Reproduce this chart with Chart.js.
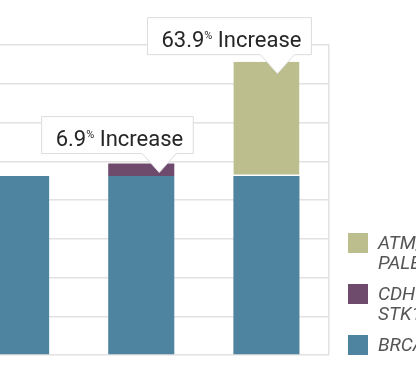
<!DOCTYPE html>
<html><head><meta charset="utf-8">
<script src="https://cdn.jsdelivr.net/npm/chart.js@4/dist/chart.umd.min.js"></script>
<style>
html,body{margin:0;padding:0;background:#fff;overflow:hidden;width:416px;height:382px;}
#wrap{position:absolute;left:-100px;top:0;width:520px;height:382px;}
canvas{display:block;}
</style></head><body>
<div id="wrap"><canvas id="c" width="520" height="382"></canvas></div>
<script>
// ---- data ----
const categories = ['BRCA1/2', 'BRCA1/2 + CDH1/PTEN/TP53/STK11', 'BRCA1/2 + ATM/CHEK2/PALB2'];
const brcaValues = [4.62, 4.62, 4.62];
const cdh1Values = [0, 0.32, 0];
const atmValues  = [0, 0, 2.95];
const brcaLegend = ['BRCA1/2'];
const cdh1Legend = ['CDH1/PTEN/', 'STK11'];
const atmLegend  = ['ATM/CHEK2/', 'PALB2'];
const increaseLabels = [null, '6.9', '63.9'];
const yMin = 0, yMax = 8, yStep = 1;

const calloutPlugin = {
  id: 'callouts',
  afterDatasetsDraw(chart, args, opts) {
    const ctx = chart.ctx;
    const ds = chart.data.datasets;
    increaseLabels.forEach((lab, i) => {
      if (!lab) return;
      let top = 0;
      ds.forEach((d, k) => { if (d.data[i] > 0) top = k; });
      const bar = chart.getDatasetMeta(top).data[i];
      const off = opts.offsets[i];
      const tipX = bar.x + off.dx, tipY = bar.y + off.dy;
      ctx.save();
      ctx.font = '400 22px Roboto';
      const w1 = ctx.measureText(lab).width;
      const w3 = ctx.measureText(' Increase').width;
      ctx.font = '400 11px Roboto';
      const w2 = ctx.measureText('%').width;
      const total = w1 + w2 + w3;
      const right = tipX + 34, width = total + 24, left = right - width;
      const bottom = tipY - 19, topY = bottom - 37;
      ctx.beginPath();
      ctx.moveTo(left, topY); ctx.lineTo(right, topY); ctx.lineTo(right, bottom);
      ctx.lineTo(tipX + 17, bottom); ctx.lineTo(tipX, tipY); ctx.lineTo(tipX - 17, bottom);
      ctx.lineTo(left, bottom); ctx.closePath();
      ctx.fillStyle = '#fff'; ctx.fill();
      ctx.strokeStyle = '#dcdcdc'; ctx.lineWidth = 1; ctx.stroke();
      const base = bottom - 8;
      let x = left + (width - total) / 2 + 2;
      ctx.fillStyle = '#262626'; ctx.textBaseline = 'alphabetic'; ctx.textAlign = 'left';
      ctx.font = '400 22px Roboto'; ctx.fillText(lab, x, base); x += w1;
      ctx.font = '400 11px Roboto'; ctx.fillText('%', x, base - 8); x += w2;
      ctx.font = '400 22px Roboto'; ctx.fillText(' Increase', x, base);
      ctx.restore();
    });
  }
};

const legendPlugin = {
  id: 'sideLegend',
  afterDraw(chart) {
    const ctx = chart.ctx;
    const a = chart.chartArea;
    const items = chart.data.datasets.slice().reverse();
    let y = a.bottom - 20;
    const positions = [];
    for (let k = items.length - 1; k >= 0; k--) {
      positions[k] = y;
      y -= 51;
    }
    ctx.save();
    items.forEach((d, k) => {
      const bx = a.right + 19, by = positions[k];
      ctx.fillStyle = d.backgroundColor;
      ctx.fillRect(bx, by, 20, 20);
      ctx.fillStyle = '#555';
      ctx.font = 'italic 400 19px Roboto';
      ctx.textAlign = 'left'; ctx.textBaseline = 'alphabetic';
      d.legendLines.forEach((t, j) => ctx.fillText(t, bx + 30, by + 16 + j * 19.5));
    });
    ctx.restore();
  }
};

function build() {
  new Chart(document.getElementById('c'), {
    type: 'bar',
    data: {
      labels: categories,
      datasets: [
        { label: 'BRCA1/2', data: brcaValues, backgroundColor: '#4e84a0', legendLines: brcaLegend },
        { label: 'CDH1/PTEN/STK11', data: cdh1Values, backgroundColor: '#6e4a6c', legendLines: cdh1Legend },
        { label: 'ATM/CHEK2/PALB2', data: atmValues, backgroundColor: '#bdbe8d', legendLines: atmLegend,
          borderColor: '#ffffff', borderWidth: {top: 0, left: 0, right: 0, bottom: 1.5}, borderSkipped: false }
      ]
    },
    options: {
      responsive: false,
      animation: false,
      layout: { padding: { left: 53.5, right: 91, top: 45, bottom: 27 } },
      datasets: { bar: { categoryPercentage: 1, barPercentage: 0.528 } },
      plugins: {
        legend: { display: false },
        tooltip: { enabled: false },
        callouts: { offsets: [null, { dx: 18, dy: 9 }, { dx: 11, dy: 12 }] }
      },
      scales: {
        x: { stacked: true, display: false },
        y: {
          stacked: true, position: 'right', min: yMin, max: yMax,
          ticks: { display: false, stepSize: yStep },
          grid: { color: '#e2e2e2', lineWidth: 1.5, drawTicks: false },
          border: { display: true, color: '#e2e2e2', width: 1.5 },
          afterFit(s) { s.width = 0; }
        }
      }
    },
    plugins: [calloutPlugin, legendPlugin]
  });
}
Promise.all([
  document.fonts.load('400 22px Roboto'),
  document.fonts.load('italic 400 19px Roboto')
]).then(build, build);
</script>
</body></html>
